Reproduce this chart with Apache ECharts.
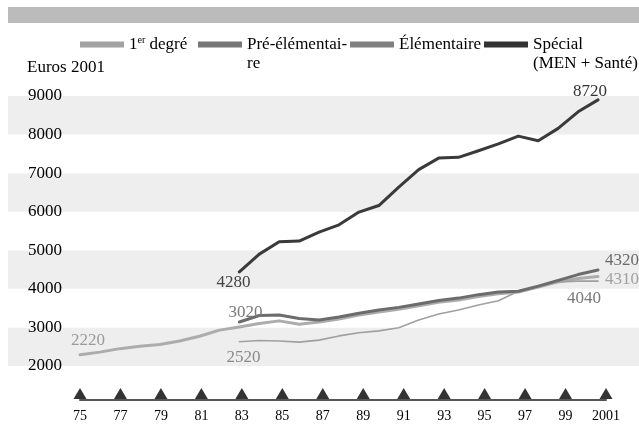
<!DOCTYPE html>
<html>
<head>
<meta charset="utf-8">
<script src="https://cdn.jsdelivr.net/npm/echarts@6/dist/echarts.min.js"></script>
<style>html,body{margin:0;padding:0;background:#fff}#c{width:639px;height:426px}</style>
</head>
<body>
<div id="c"></div>
<script>
const years = ['75','76','77','78','79','80','81','82','83','84','85','86','87','88','89','90','91','92','93','94','95','96','97','98','99','2000','2001'];
const tickLabels = ['75','77','79','81','83','85','87','89','91','93','95','97','99','2001'];
const premierDegre = [2290,2360,2450,2510,2560,2650,2770,2930,3010,3100,3170,3080,3140,3220,3320,3400,3470,3560,3650,3710,3800,3870,3920,4050,4180,4270,4320];
const preElementaire = [null,null,null,null,null,null,null,null,2630,2660,2650,2620,2670,2780,2860,2910,2990,3190,3350,3450,3580,3690,3940,4060,4180,4200,4200];
const elementaire = [null,null,null,null,null,null,null,null,3140,3310,3320,3230,3190,3270,3370,3450,3520,3610,3700,3760,3850,3920,3940,4070,4220,4370,4490];
const special = [null,null,null,null,null,null,null,null,4440,4900,5220,5240,5470,5660,5990,6160,6640,7090,7390,7410,7580,7760,7960,7840,8160,8590,8900];
const yTicks = [2000,3000,4000,5000,6000,7000,8000,9000];
// annotated values written on the chart [start, end]
const premierLabels = ['2220','4040'];
const preLabels = ['2520','4310'];
const elemLabels = ['3020','4320'];
const specialLabels = ['4280','8720'];

const FONT = 'Liberation Serif';
const chart = echarts.init(document.getElementById('c'));

function firstIdx(arr){ return arr.findIndex(v => v !== null); }
function mp(arr, texts, offs, colors){
  const i0 = firstIdx(arr), i1 = arr.length - 1;
  return {
    symbol: 'circle', symbolSize: 0, silent: true,
    itemStyle: {color: 'transparent'},
    label: {show: true, formatter: '{c}', fontFamily: FONT, fontSize: 17},
    data: [
      {coord: [years[i0], arr[i0]], value: texts[0], label: {offset: offs[0], color: colors[0]}},
      {coord: [years[i1], arr[i1]], value: texts[1], label: {offset: offs[1], color: colors[1]}}
    ]
  };
}
function lineSeries(name, data, color, width, marks){
  return {
    name, type: 'line', xAxisIndex: 1, yAxisIndex: 1, data,
    showSymbol: false, symbol: 'none', connectNulls: false, silent: true,
    lineStyle: {color, width, cap: 'round', join: 'round'},
    itemStyle: {color},
    markPoint: marks
  };
}
const legendBase = {
  orient: 'horizontal', padding: 0, icon: 'rect', itemWidth: 44, itemHeight: 6,
  selectedMode: false,
  textStyle: {fontFamily: FONT, fontSize: 17, color: '#000', lineHeight: 19}
};

chart.setOption({
  animation: false,
  backgroundColor: '#fff',
  title: {text: 'Euros 2001', left: 27, top: 59, padding: 0,
    textStyle: {fontFamily: FONT, fontSize: 17, fontWeight: 'normal', color: '#000'}},
  graphic: [{type: 'rect', left: 8, top: 7, shape: {width: 631, height: 16}, style: {fill: '#bbbbbb'}, silent: true}],
  legend: [
    Object.assign({}, legendBase, {left: 80, top: 35,
      data: [{name: '1er degré', itemStyle: {color: '#a2a2a2'}}],
      formatter: () => '1{sup|er} degré',
      textStyle: Object.assign({}, legendBase.textStyle, {rich: {sup: {fontFamily: FONT, fontSize: 10, verticalAlign: 'top', lineHeight: 19}}})}),
    Object.assign({}, legendBase, {left: 198, top: 16,
      data: [{name: 'Pré-élémentaire', itemStyle: {color: '#767676'}}],
      formatter: () => '\nPré-élémentai-\nre'}),
    Object.assign({}, legendBase, {left: 350, top: 35,
      data: [{name: 'Élémentaire', itemStyle: {color: '#808080'}}]}),
    Object.assign({}, legendBase, {left: 484, top: 16,
      data: [{name: 'Spécial', itemStyle: {color: '#333333'}}],
      formatter: () => '\nSpécial\n(MEN + Santé)'})
  ],
  grid: [
    {left: 8, right: 0, top: 96, bottom: 60},
    {left: 80, right: 41, top: 96, bottom: 60},
    {left: 80, right: 33, top: 387, height: 13}
  ],
  xAxis: [
    {gridIndex: 0, type: 'category', data: years, boundaryGap: false, show: false},
    {gridIndex: 1, type: 'category', data: years, boundaryGap: false, show: false},
    {gridIndex: 2, type: 'category', data: years, boundaryGap: false, position: 'top',
      axisLine: {show: true, lineStyle: {color: '#555', width: 2}},
      axisTick: {show: false}, axisLabel: {show: false}, splitLine: {show: false}},
    {gridIndex: 2, type: 'category', data: years, boundaryGap: false, position: 'bottom',
      axisLine: {show: false}, axisTick: {show: false}, splitLine: {show: false},
      axisLabel: {show: true, margin: 9, interval: (i, v) => tickLabels.includes(v),
        fontFamily: FONT, fontSize: 14, color: '#000'}}
  ],
  yAxis: [
    {gridIndex: 0, type: 'value', min: yTicks[0], max: yTicks[yTicks.length-1], interval: 1000,
      axisLine: {show: false}, axisTick: {show: false}, splitLine: {show: false},
      splitArea: {show: true, areaStyle: {color: ['#eeeeee', '#ffffff']}},
      axisLabel: {inside: true, margin: 20, fontFamily: FONT, fontSize: 17, color: '#000',
        formatter: v => yTicks.includes(v) ? String(v) : ''}},
    {gridIndex: 1, type: 'value', min: yTicks[0], max: yTicks[yTicks.length-1], show: false},
    {gridIndex: 2, type: 'value', min: 0, max: 1, show: false}
  ],
  series: [
    lineSeries('1er degré', premierDegre, '#acacac', 3,
      mp(premierDegre, premierLabels, [[8,-14],[-14,22]], ['#9a9a9a','#7a7a7a'])),
    lineSeries('Pré-élémentaire', preElementaire, '#a0a0a0', 1.6,
      mp(preElementaire, preLabels, [[4,16],[24,-2]], ['#8a8a8a','#a0a0a0'])),
    lineSeries('Élémentaire', elementaire, '#6c6c6c', 3,
      mp(elementaire, elemLabels, [[6,-9],[24,-9]], ['#7a7a7a','#6a6a6a'])),
    lineSeries('Spécial', special, '#3a3a3a', 3,
      mp(special, specialLabels, [[-6,11],[-8,-8]], ['#444444','#333333'])),
    {type: 'scatter', xAxisIndex: 2, yAxisIndex: 2, silent: true,
      symbol: 'triangle', symbolSize: [13, 11], itemStyle: {color: '#000'},
      data: tickLabels.map(t => [t, 0.5])}
  ]
});
</script>
</body>
</html>
